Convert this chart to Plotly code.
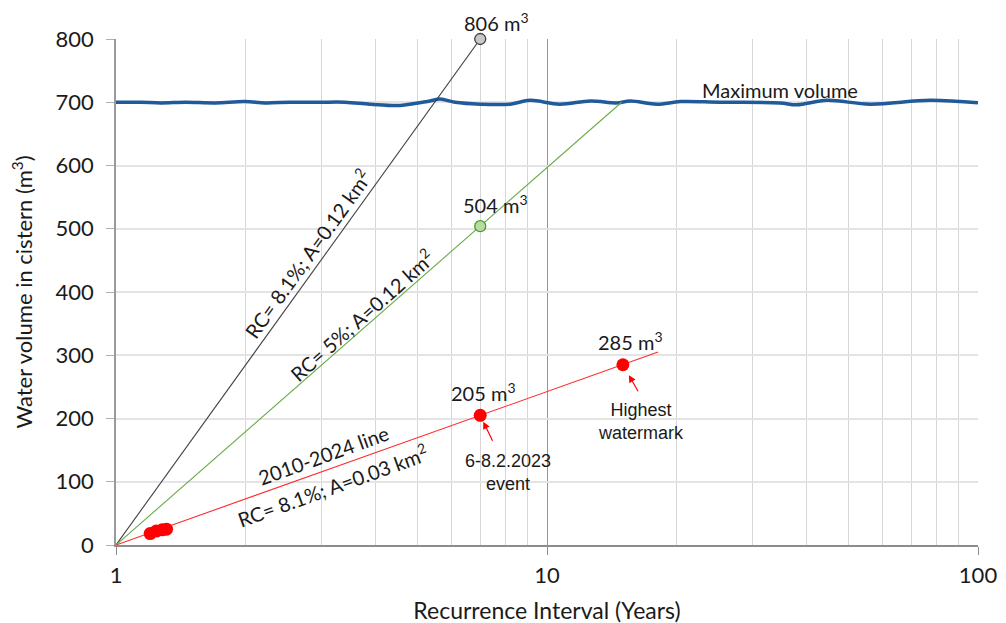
import numpy as np
import plotly.graph_objects as go

# ---------------- data ----------------
# Maximum cistern volume (hand-drawn wavy line ~700 m3)
max_x = [1.00, 1.14, 1.27, 1.45, 1.70, 1.99, 2.22, 2.53, 2.97, 3.40, 3.89, 4.56, 5.35, 5.65, 6.12,
         6.99, 8.21, 9.13, 10.7, 12.6, 14.5, 15.6, 18.0, 20.4, 25.2, 34.7, 38.0, 44.6, 56.2, 77.4, 100]
max_y = [700, 700, 699, 700, 699, 701, 699, 700, 700, 700, 697, 695, 702, 705, 700,
         697, 697, 703, 697, 702, 699, 702, 697, 701, 700, 699, 696, 703, 697, 703, 699]

# Lines: RC=8.1%, A=0.12 km2 (black); RC=5%, A=0.12 km2 (green); 2010-2024 line (red)
black_x = [1, 7]
black_y = [0, 800]
green_x = [1, 14.9]
green_y = [0, 700]
red_x = [1, 18.1]
red_y = [0, 305]

# Highlighted points
black_pt_x, black_pt_y = [7], [800]
green_pt_x, green_pt_y = [7], [504]
event_x, event_y = [7], [205]
hwm_x, hwm_y = [15], [285]
obs_x = [1.20, 1.24, 1.28, 1.31]
obs_y = [18, 22, 24, 25]

x_ticks = [1, 10, 100]
y_ticks = [0, 100, 200, 300, 400, 500, 600, 700, 800]

FONT = "Lato"
ARIAL = "Liberation Sans"
TXT = "#1a1a1a"

fig = go.Figure()

fig.add_trace(go.Scatter(x=max_x, y=max_y, mode="lines",
                         line=dict(color="#1f5a9b", width=3.5, shape="spline", smoothing=1.0)))
fig.add_trace(go.Scatter(x=black_x, y=black_y, mode="lines", line=dict(color="#404040", width=1.1)))
fig.add_trace(go.Scatter(x=green_x, y=green_y, mode="lines", line=dict(color="#6aab4a", width=1.1)))
fig.add_trace(go.Scatter(x=red_x, y=red_y, mode="lines", line=dict(color="#ff2a2a", width=1.1)))

fig.add_trace(go.Scatter(x=black_pt_x, y=black_pt_y, mode="markers", cliponaxis=False,
                         marker=dict(size=11, color="#c8c8c8", line=dict(color="#404040", width=1.3))))
fig.add_trace(go.Scatter(x=green_pt_x, y=green_pt_y, mode="markers", cliponaxis=False,
                         marker=dict(size=11, color="#b6dca2", line=dict(color="#4a9a30", width=1.3))))
fig.add_trace(go.Scatter(x=event_x + hwm_x, y=event_y + hwm_y, mode="markers",
                         marker=dict(size=13, color="#ff0000")))
fig.add_trace(go.Scatter(x=obs_x, y=obs_y, mode="markers", marker=dict(size=13, color="#ff0000")))

ann = []

def val_label(x, y, text, xs, ys):
    ann.append(dict(x=np.log10(x), y=y, text=text, showarrow=False, xshift=xs, yshift=ys,
                    font=dict(family=FONT, size=20, color=TXT)))

val_label(black_pt_x[0], black_pt_y[0], "806 m<sup>3</sup>", 16, 17)
val_label(green_pt_x[0], green_pt_y[0], "504 m<sup>3</sup>", 15, 22)
val_label(event_x[0], event_y[0], "205 m<sup>3</sup>", 3, 23)
val_label(hwm_x[0], hwm_y[0], "285 m<sup>3</sup>", 8, 24)

# rotated line labels, placed along each line (in log-x space) and offset perpendicular
def line_label(xs_, ys_, t, text, angle, dx, dy):
    lx0, lx1 = np.log10(xs_[0]), np.log10(xs_[1])
    ann.append(dict(x=lx0 + t * (lx1 - lx0), y=ys_[0] + t * (ys_[1] - ys_[0]), text=text,
                    showarrow=False, textangle=angle, xshift=dx, yshift=dy,
                    font=dict(family=FONT, size=20, color=TXT)))

line_label(black_x, black_y, 0.56, "RC= 8.1%; A=0.12 km<sup>2</sup>", -54.3, -13, 9)
line_label(green_x, green_y, 0.50, "RC= 5%; A=0.12 km<sup>2</sup>", -41.6, -8, 9)
line_label(red_x, red_y, 0.39, "2010-2024 line", -19.8, -4, 15)
line_label(red_x, red_y, 0.39, "RC= 8.1%; A=0.03 km<sup>2</sup>", -19.8, 5, -15)

# Maximum volume label
ann.append(dict(x=np.log10(max_x[25]), y=max_y[25], text="Maximum volume", showarrow=False,
                yshift=13, font=dict(family=FONT, size=20, color=TXT)))

# event / watermark labels with arrows
ann.append(dict(x=np.log10(event_x[0]), y=event_y[0], text="", showarrow=True, ax=13, ay=27,
                arrowhead=2, arrowsize=1.2, arrowwidth=1.2, arrowcolor="#ff0000", standoff=7))
ann.append(dict(x=np.log10(hwm_x[0]), y=hwm_y[0], text="", showarrow=True, ax=16, ay=28,
                arrowhead=2, arrowsize=1.2, arrowwidth=1.2, arrowcolor="#ff0000", standoff=12))
ann.append(dict(x=np.log10(event_x[0]), y=event_y[0], text="6-8.2.2023<br>event", showarrow=False,
                xshift=28, yshift=-57, font=dict(family=ARIAL, size=18, color=TXT)))
ann.append(dict(x=np.log10(hwm_x[0]), y=hwm_y[0], text="Highest<br>watermark", showarrow=False,
                xshift=18, yshift=-57, font=dict(family=ARIAL, size=18, color=TXT)))

# (the page body adds an 8px offset, so margins are reduced accordingly)
fig.update_layout(
    width=1006, height=623,
    margin=dict(l=108, r=36, t=31, b=86, autoexpand=False),
    paper_bgcolor="white", plot_bgcolor="white",
    showlegend=False,
    annotations=ann,
    font=dict(family=FONT, size=20, color=TXT),
)

fig.update_xaxes(
    type="log", range=[0, 2], automargin=False,
    tickvals=x_ticks, ticktext=[str(v) for v in x_ticks],
    showgrid=True, gridcolor="#959595", gridwidth=1,
    minor=dict(dtick="D1", showgrid=True, gridcolor="#d6d6d6", gridwidth=1),
    ticks="outside", ticklen=8, tickcolor="#8c8c8c",
    showline=True, linecolor="#8c8c8c", linewidth=1.5,
    ticklabelstandoff=2,
    tickfont=dict(family=FONT, size=22, color=TXT),
    title=dict(text="Recurrence Interval (Years)", standoff=16,
               font=dict(family=FONT, size=23, color=TXT)),
    zeroline=False,
)
fig.update_yaxes(
    range=[0, 800], tickvals=y_ticks, automargin=False,
    showgrid=True, gridcolor="#e4e4e4", gridwidth=1.5,
    ticks="outside", ticklen=8, tickcolor="#b0b0b0",
    showline=True, linecolor="#9a9a9a", linewidth=1.5,
    ticklabelstandoff=8,
    tickfont=dict(family=FONT, size=22, color=TXT),
    title=dict(text="Water volume in cistern (m<sup>3</sup>)", standoff=18,
               font=dict(family=FONT, size=22, color=TXT)),
    zeroline=False,
)

fig.write_html("out.html")
